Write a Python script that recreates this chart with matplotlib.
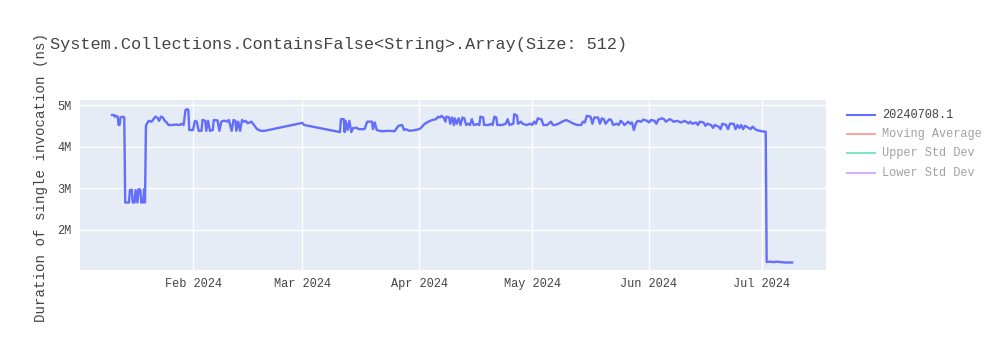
import matplotlib
matplotlib.use("Agg")
import matplotlib.pyplot as plt
from matplotlib.lines import Line2D
import pandas as pd

title = "System.Collections.ContainsFalse<String>.Array(Size: 512)"
y_title = "Duration of single invocation (ns)"

# (timestamp, duration in millions of ns)
dates = [
    "2024-01-10 12:00", "2024-01-11 00:00", "2024-01-11 06:00", "2024-01-11 12:00",
    "2024-01-12 00:00", "2024-01-12 06:00", "2024-01-12 12:00", "2024-01-12 18:00",
    "2024-01-13 06:00", "2024-01-13 18:00", "2024-01-14 00:00",
    "2024-01-14 12:00", "2024-01-15 00:00", "2024-01-15 06:00", "2024-01-15 18:00",
    "2024-01-16 00:00", "2024-01-16 12:00", "2024-01-16 18:00", "2024-01-17 06:00",
    "2024-01-17 12:00", "2024-01-18 00:00", "2024-01-18 06:00", "2024-01-18 18:00",
    "2024-01-19 00:00", "2024-01-19 06:00", "2024-01-19 12:00",
    "2024-01-19 18:00", "2024-01-20 06:00", "2024-01-21 00:00", "2024-01-21 12:00",
    "2024-01-22 00:00", "2024-01-22 12:00", "2024-01-23 00:00", "2024-01-23 12:00",
    "2024-01-24 00:00", "2024-01-24 12:00", "2024-01-25 00:00", "2024-01-25 12:00",
    "2024-01-26 12:00", "2024-01-27 12:00", "2024-01-28 12:00", "2024-01-29 00:00",
    "2024-01-29 12:00", "2024-01-30 00:00", "2024-01-30 12:00", "2024-01-30 18:00",
    "2024-01-31 00:00",
    "2024-02-01 00:00", "2024-02-01 12:00", "2024-02-02 00:00", "2024-02-02 12:00",
    "2024-02-03 06:00", "2024-02-03 12:00", "2024-02-04 06:00", "2024-02-04 12:00",
    "2024-02-05 00:00", "2024-02-05 12:00", "2024-02-06 06:00", "2024-02-06 12:00",
    "2024-02-07 12:00", "2024-02-08 00:00", "2024-02-08 12:00", "2024-02-09 00:00",
    "2024-02-09 12:00", "2024-02-10 00:00", "2024-02-10 12:00", "2024-02-11 06:00",
    "2024-02-11 18:00", "2024-02-12 06:00", "2024-02-12 12:00", "2024-02-13 00:00",
    "2024-02-13 12:00", "2024-02-14 00:00", "2024-02-14 12:00", "2024-02-15 00:00",
    "2024-02-15 12:00", "2024-02-16 12:00", "2024-02-18 00:00", "2024-02-19 00:00",
    "2024-02-20 00:00",
    "2024-03-01 00:00", "2024-03-01 12:00", "2024-03-11 00:00", "2024-03-11 06:00",
    "2024-03-12 00:00", "2024-03-12 06:00", "2024-03-12 12:00", "2024-03-13 00:00",
    "2024-03-13 12:00", "2024-03-14 00:00", "2024-03-14 12:00", "2024-03-15 12:00",
    "2024-03-16 00:00", "2024-03-17 12:00", "2024-03-18 06:00", "2024-03-19 12:00",
    "2024-03-19 18:00", "2024-03-20 06:00", "2024-03-20 18:00", "2024-03-22 00:00",
    "2024-03-24 00:00", "2024-03-25 12:00", "2024-03-26 12:00", "2024-03-27 12:00",
    "2024-03-28 00:00", "2024-03-28 12:00", "2024-03-29 12:00", "2024-03-31 00:00",
    "2024-04-01 00:00",
    "2024-04-01 12:00", "2024-04-02 12:00", "2024-04-03 12:00", "2024-04-04 12:00",
    "2024-04-05 12:00", "2024-04-06 00:00", "2024-04-06 12:00", "2024-04-07 00:00",
    "2024-04-07 12:00", "2024-04-08 00:00", "2024-04-08 06:00", "2024-04-09 00:00",
    "2024-04-09 06:00", "2024-04-09 18:00", "2024-04-10 06:00", "2024-04-10 12:00",
    "2024-04-11 00:00", "2024-04-11 12:00", "2024-04-12 00:00", "2024-04-12 12:00",
    "2024-04-13 00:00", "2024-04-13 12:00", "2024-04-14 00:00", "2024-04-14 12:00",
    "2024-04-15 00:00", "2024-04-15 12:00", "2024-04-16 12:00", "2024-04-17 00:00",
    "2024-04-17 06:00", "2024-04-18 00:00", "2024-04-18 06:00", "2024-04-19 12:00",
    "2024-04-20 00:00", "2024-04-20 12:00", "2024-04-21 00:00", "2024-04-21 12:00",
    "2024-04-21 18:00", "2024-04-23 00:00", "2024-04-24 00:00", "2024-04-24 12:00",
    "2024-04-25 00:00", "2024-04-26 00:00", "2024-04-26 06:00", "2024-04-27 00:00",
    "2024-04-27 06:00", "2024-04-28 00:00", "2024-04-28 12:00", "2024-04-29 12:00",
    "2024-04-30 12:00", "2024-05-01 00:00", "2024-05-01 12:00", "2024-05-02 00:00",
    "2024-05-02 12:00", "2024-05-03 12:00", "2024-05-04 00:00", "2024-05-05 00:00",
    "2024-05-06 00:00",
    "2024-05-06 12:00", "2024-05-07 00:00", "2024-05-08 00:00", "2024-05-09 00:00",
    "2024-05-10 00:00", "2024-05-11 00:00", "2024-05-12 00:00", "2024-05-13 00:00",
    "2024-05-14 00:00", "2024-05-14 12:00", "2024-05-15 00:00", "2024-05-15 12:00",
    "2024-05-16 12:00", "2024-05-17 00:00", "2024-05-17 12:00", "2024-05-18 12:00",
    "2024-05-19 00:00", "2024-05-19 12:00", "2024-05-20 00:00", "2024-05-20 12:00",
    "2024-05-21 12:00", "2024-05-22 00:00", "2024-05-22 12:00", "2024-05-23 12:00",
    "2024-05-24 00:00", "2024-05-24 12:00", "2024-05-25 00:00", "2024-05-25 12:00",
    "2024-05-26 12:00", "2024-05-27 00:00", "2024-05-27 12:00", "2024-05-28 00:00",
    "2024-05-28 12:00", "2024-05-29 00:00", "2024-05-30 00:00", "2024-05-30 12:00",
    "2024-05-31 12:00", "2024-06-01 00:00", "2024-06-01 12:00", "2024-06-02 12:00",
    "2024-06-03 00:00", "2024-06-03 12:00", "2024-06-04 12:00", "2024-06-05 00:00",
    "2024-06-05 12:00", "2024-06-06 12:00", "2024-06-07 00:00", "2024-06-07 12:00",
    "2024-06-08 12:00", "2024-06-09 12:00", "2024-06-10 12:00", "2024-06-11 12:00",
    "2024-06-12 00:00", "2024-06-12 12:00", "2024-06-13 12:00", "2024-06-14 00:00",
    "2024-06-14 12:00", "2024-06-15 12:00", "2024-06-16 00:00", "2024-06-16 12:00",
    "2024-06-17 12:00", "2024-06-18 00:00", "2024-06-18 12:00", "2024-06-19 12:00",
    "2024-06-20 00:00", "2024-06-20 12:00", "2024-06-21 12:00", "2024-06-22 00:00",
    "2024-06-22 12:00", "2024-06-23 12:00", "2024-06-24 00:00", "2024-06-24 12:00",
    "2024-06-25 00:00", "2024-06-25 12:00", "2024-06-26 00:00", "2024-06-26 12:00",
    "2024-06-27 12:00", "2024-06-28 00:00", "2024-06-28 12:00", "2024-06-29 12:00",
    "2024-06-30 12:00", "2024-07-01 12:00", "2024-07-02 00:00", "2024-07-02 06:00",
    "2024-07-03 00:00", "2024-07-04 00:00", "2024-07-05 00:00", "2024-07-06 00:00",
    "2024-07-07 00:00", "2024-07-08 00:00", "2024-07-09 00:00",
]
values_m = [
    4.76, 4.76, 4.72, 4.74,
    4.72, 4.52, 4.52, 4.70,
    4.72, 4.70, 2.66,
    2.66, 2.66, 2.96, 2.97,
    2.66, 2.66, 2.96, 2.66,
    2.98, 2.97, 2.66, 2.66,
    2.98, 2.66, 4.50,
    4.55, 4.62, 4.60, 4.66,
    4.72, 4.70, 4.62, 4.72,
    4.70, 4.62, 4.58, 4.52,
    4.52, 4.53, 4.52, 4.55,
    4.52, 4.88, 4.90, 4.88,
    4.40,
    4.40, 4.62, 4.60, 4.38,
    4.38, 4.64, 4.62, 4.38,
    4.62, 4.38, 4.40, 4.64,
    4.63, 4.38, 4.60, 4.62,
    4.62, 4.60, 4.64, 4.38,
    4.64, 4.62, 4.38, 4.60,
    4.38, 4.64, 4.60, 4.62,
    4.56, 4.60, 4.42, 4.38,
    4.38,
    4.57, 4.52, 4.35, 4.66,
    4.66, 4.35, 4.62, 4.40,
    4.62, 4.35, 4.45, 4.45,
    4.42, 4.42, 4.60, 4.60,
    4.42, 4.58, 4.40, 4.37,
    4.38, 4.37, 4.50, 4.52,
    4.40, 4.42, 4.38, 4.40,
    4.42,
    4.45, 4.55, 4.60, 4.64,
    4.66, 4.72, 4.70, 4.74,
    4.70, 4.60, 4.72, 4.70,
    4.55, 4.70, 4.52, 4.68,
    4.55, 4.68, 4.52, 4.70,
    4.68, 4.52, 4.55, 4.52,
    4.66, 4.52, 4.54, 4.52,
    4.72, 4.70, 4.52, 4.52,
    4.55, 4.52, 4.72, 4.70,
    4.52, 4.52, 4.55, 4.66,
    4.52, 4.55, 4.78, 4.74,
    4.55, 4.60, 4.55, 4.52,
    4.55, 4.52, 4.60, 4.55,
    4.68, 4.65, 4.52, 4.52,
    4.60,
    4.52, 4.52, 4.55, 4.60,
    4.64, 4.60, 4.55, 4.52,
    4.52, 4.60, 4.58, 4.74,
    4.72, 4.55, 4.70, 4.70,
    4.55, 4.68, 4.66, 4.55,
    4.66, 4.64, 4.52, 4.55,
    4.52, 4.62, 4.58, 4.52,
    4.60, 4.55, 4.58, 4.40,
    4.55, 4.62, 4.60, 4.65,
    4.62, 4.58, 4.64, 4.62,
    4.55, 4.65, 4.68, 4.66,
    4.60, 4.66, 4.64, 4.60,
    4.62, 4.58, 4.62, 4.56,
    4.60, 4.55, 4.58, 4.52,
    4.60, 4.58, 4.50, 4.55,
    4.52, 4.45, 4.52, 4.48,
    4.42, 4.55, 4.52, 4.42,
    4.55, 4.55, 4.42, 4.52,
    4.45, 4.52, 4.42, 4.50,
    4.45, 4.42, 4.48, 4.40,
    4.38, 4.36, 4.36, 1.23,
    1.24, 1.23, 1.24, 1.23,
    1.22, 1.22, 1.22,
]

legend_labels = ["20240708.1", "Moving Average", "Upper Std Dev", "Lower Std Dev"]
legend_colors = ["#636EFA", "#EF553B", "#00CC96", "#AB63FA"]

month_ticks = ["2024-02-01", "2024-03-01", "2024-04-01", "2024-05-01", "2024-06-01", "2024-07-01"]
month_labels = ["Feb 2024", "Mar 2024", "Apr 2024", "May 2024", "Jun 2024", "Jul 2024"]
y_ticks = [2e6, 3e6, 4e6, 5e6]
y_labels = ["2M", "3M", "4M", "5M"]

mono = "Liberation Mono"
x = pd.to_datetime(dates)
y = [v * 1e6 for v in values_m]

fig = plt.figure(figsize=(10, 3.5), dpi=100)
ax = fig.add_axes([0.080, 1 - 270 / 350, 0.746, 170 / 350])
ax.set_facecolor("#E5ECF6")
for s in ax.spines.values():
    s.set_visible(False)

ax.plot(x, y, color="#636EFA", lw=1.7, solid_joinstyle="round", zorder=3)

ax.set_xlim(pd.Timestamp("2024-01-02"), pd.Timestamp("2024-07-18"))
ax.set_ylim(1.04e6, 5.12e6)
ax.set_xticks(pd.to_datetime(month_ticks))
ax.set_xticklabels(month_labels)
ax.set_yticks(y_ticks)
ax.set_yticklabels(y_labels)
ax.tick_params(length=0, labelsize=8.6, labelcolor="#444444", pad=6)
for lab in ax.get_xticklabels() + ax.get_yticklabels():
    lab.set_family(mono)
ax.grid(True, color="white", lw=1)
ax.set_axisbelow(True)

fig.text(0.050, 1 - 45 / 350, title, fontsize=12.2, family=mono,
         color="#444444", ha="left", va="center")
fig.text(0.041, 1 - 178 / 350, y_title, fontsize=10.2, family=mono,
         color="#444444", rotation=90, ha="center", va="center")

# legend, with hidden traces faded as plotly shows them
for i, (lab, col) in enumerate(zip(legend_labels, legend_colors)):
    yy = 1 - (115 + i * 19.2) / 350
    alpha = 1.0 if i == 0 else 0.5
    fig.add_artist(Line2D([0.847, 0.875], [yy, yy], color=col, lw=1.5, alpha=alpha,
                          transform=fig.transFigure))
    fig.text(0.882, yy, lab, fontsize=8.6, family=mono, va="center", ha="left",
             color="#444444", alpha=alpha)

fig.savefig("out.png", dpi=100)
